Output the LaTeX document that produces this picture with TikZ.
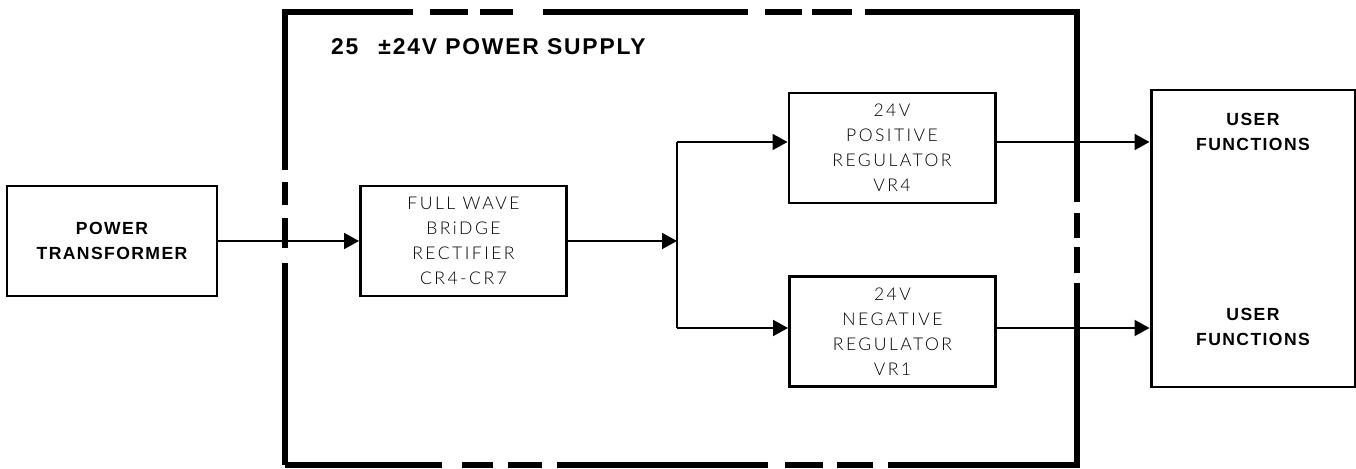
\documentclass[tikz,border=0pt]{standalone}
\usepackage{fontspec}
\setmainfont{Liberation Sans}
\newfontfamily\labelfont{Liberation Sans}[LetterSpace=8]
\newfontfamily\thinfont{Lato Light}[LetterSpace=14]
\usetikzlibrary{arrows.meta}

\tikzset{
  blockbox/.style={draw, line width=1.7pt, minimum width=4.12cm, minimum height=2.2cm,
    align=center, inner sep=0pt},
  boldtext/.style={font=\labelfont\bfseries\fontsize{10}{14.2}\selectfont, align=center},
  thintext/.style={font=\thinfont\fontsize{10}{14.2}\selectfont},
  wire/.style={line width=1.1pt},
}

\begin{document}
\begin{tikzpicture}[>={Triangle[length=0.3cm, width=0.32cm]}]
  \useasboundingbox (0,0) rectangle (27.12,9.38);

  %%%%%%%%%%%%%%%%%%%%%%%%%%%%%%%%%%%%%%%%%%%%%%%%%
  % Power supply outline
  \draw[line width=0.12cm, line join=miter,
    dash pattern=on 4.04cm off 0.3cm on 0.6cm off 0.26cm on 0.46cm off 0.24cm
      on 5.72cm off 0.34cm on 0.76cm off 0.24cm on 0.66cm off 0.6cm on 4.1cm off 0.34cm
      on 0.74cm off 0.2cm on 0.8cm off 0.26cm on 8.04cm off 0.22cm on 0.5cm off 0.18cm
      on 0.52cm off 0.2cm on 7.42cm off 0.3cm on 0.72cm off 0.28cm on 0.76cm off 0.34cm
      on 4.22cm off 0.3cm on 0.68cm off 0.3cm on 0.62cm off 0.4cm on 3.2cm off 0.2cm]
    (5.70,0.08) -- (5.70,9.14) -- (21.54,9.14) -- (21.54,0.08) -- cycle;

  \node[boldtext, anchor=west, font=\labelfont\bfseries\fontsize{13}{15}\selectfont]
    (title) at (6.50,8.44) {25\hspace{0.4cm}±24V POWER SUPPLY};

  %%%%%%%%%%%%%%%%%%%%%%%%%%%%%%%%%%%%%%%%%%%%%%%%%
  % Blocks
  \node[blockbox, minimum width=4.2cm, boldtext] (trans) at (2.24,4.56)
    {POWER\\TRANSFORMER};
  \node[blockbox, thintext] (rect) at (9.27,4.56)
    {FULL WAVE\\BRiDGE\\RECTIFIER\\CR4-CR7};
  \node[blockbox, thintext] (posreg) at (17.84,6.42)
    {24V\\POSITIVE\\REGULATOR\\VR4};
  \node[blockbox, thintext] (negreg) at (17.85,2.75)
    {24V\\NEGATIVE\\REGULATOR\\VR1};
  \node[blockbox, minimum width=4.08cm, minimum height=5.94cm] (user) at (25.06,4.61) {};
  \node[boldtext] (usertop) at (25.06,6.75) {USER\\FUNCTIONS};
  \node[boldtext] (userbot) at (25.06,2.84) {USER\\FUNCTIONS};

  %%%%%%%%%%%%%%%%%%%%%%%%%%%%%%%%%%%%%%%%%%%%%%%%%
  % Connections
  \coordinate (split) at (13.54,4.56);
  \coordinate (splittop) at (13.54,6.54);
  \coordinate (splitbot) at (13.54,2.82);

  \draw[wire, ->] (trans) -- (rect);
  \draw[wire, ->] (rect) -- (split);
  \draw[wire] (splittop) -- (splitbot);
  \draw[wire, ->] (splittop) -- (splittop -| posreg.west);
  \draw[wire, ->] (splitbot) -- (splitbot -| negreg.west);
  \draw[wire, ->] (splittop -| posreg.east) -- (splittop -| user.west);
  \draw[wire, ->] (splitbot -| negreg.east) -- (splitbot -| user.west);

\end{tikzpicture}
\end{document}
